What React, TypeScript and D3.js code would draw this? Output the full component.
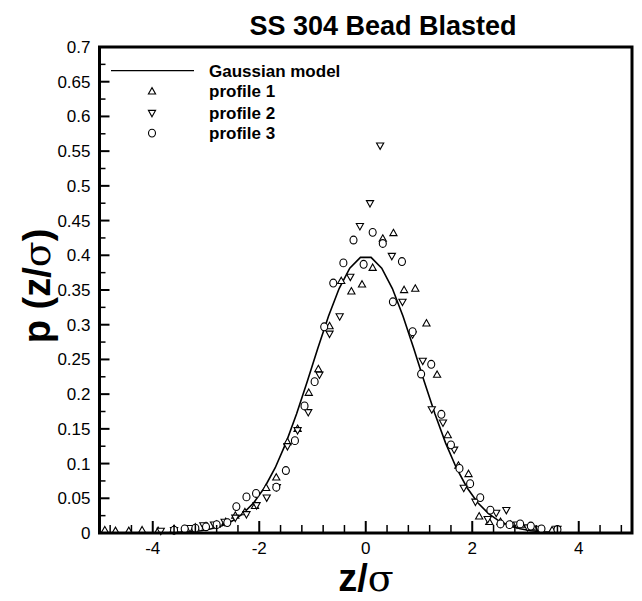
import React from 'react';
import * as d3 from 'd3';

// Gaussian model curve (sampled values)
const modelZ = [-4.9, -4.5, -4.1, -3.7, -3.5, -3.3, -3.1, -2.9, -2.7, -2.5, -2.3, -2.1, -1.9, -1.7, -1.5, -1.3, -1.1, -0.9, -0.7, -0.5, -0.3, -0.1, 0.1, 0.3, 0.5, 0.7, 0.9, 1.1, 1.3, 1.5, 1.7, 1.9, 2.1, 2.3, 2.5, 2.7, 2.9, 3.1, 3.3, 3.5, 3.7, 4.1, 4.5, 4.9];
const modelP = [0.0, 0.0, 0.0001, 0.0004, 0.0009, 0.0017, 0.0033, 0.006, 0.0104, 0.0175, 0.0283, 0.044, 0.0656, 0.094, 0.1295, 0.1714, 0.2179, 0.2661, 0.3123, 0.3521, 0.3814, 0.397, 0.397, 0.3814, 0.3521, 0.3123, 0.2661, 0.2179, 0.1714, 0.1295, 0.094, 0.0656, 0.044, 0.0283, 0.0175, 0.0104, 0.006, 0.0033, 0.0017, 0.0009, 0.0004, 0.0001, 0.0, 0.0];

// profile 1 (triangle up)
const p1Z = [-4.9, -4.7, -4.45, -4.2, -3.9, -3.6, -3.4, -3.2, -3.0, -2.8, -2.63, -2.45, -2.27, -2.08, -1.87, -1.68, -1.47, -1.28, -1.07, -0.89, -0.68, -0.46, -0.27, -0.07, 0.13, 0.32, 0.52, 0.72, 0.93, 1.14, 1.34, 1.54, 1.74, 1.93, 2.13, 2.32, 2.53, 2.72, 2.92, 3.1, 3.5];
const p1P = [0.004, 0.003, 0.003, 0.004, 0.003, 0.006, 0.005, 0.008, 0.010, 0.012, 0.016, 0.025, 0.030, 0.039, 0.065, 0.080, 0.131, 0.150, 0.202, 0.236, 0.298, 0.363, 0.348, 0.358, 0.382, 0.424, 0.432, 0.350, 0.352, 0.302, 0.228, 0.141, 0.097, 0.085, 0.024, 0.016, 0.016, 0.012, 0.012, 0.008, 0.004];

// profile 2 (triangle down)
const p2Z = [-3.85, -3.6, -3.3, -3.05, -2.85, -2.65, -2.45, -2.24, -2.05, -1.86, -1.67, -1.47, -1.28, -1.08, -0.87, -0.68, -0.49, -0.29, -0.11, 0.08, 0.27, 0.49, 0.69, 0.88, 1.07, 1.24, 1.45, 1.66, 1.84, 2.06, 2.29, 2.45, 2.64, 2.84, 3.04, 3.25, 3.6];
const p2P = [0.003, 0.004, 0.007, 0.011, 0.012, 0.016, 0.022, 0.027, 0.040, 0.051, 0.066, 0.125, 0.148, 0.174, 0.228, 0.287, 0.312, 0.369, 0.442, 0.475, 0.558, 0.399, 0.333, 0.286, 0.248, 0.178, 0.159, 0.120, 0.065, 0.045, 0.020, 0.029, 0.033, 0.012, 0.008, 0.006, 0.006];

// profile 3 (circle)
const p3Z = [-3.6, -3.4, -3.2, -3.0, -2.8, -2.6, -2.43, -2.24, -2.06, -1.68, -1.50, -1.33, -1.15, -0.96, -0.78, -0.61, -0.42, -0.23, -0.04, 0.13, 0.32, 0.51, 0.68, 0.88, 1.04, 1.23, 1.42, 1.60, 1.76, 1.96, 2.15, 2.34, 2.53, 2.7, 2.9, 3.1, 3.3, 3.6];
const p3P = [0.004, 0.006, 0.007, 0.009, 0.012, 0.015, 0.038, 0.052, 0.057, 0.066, 0.090, 0.133, 0.183, 0.218, 0.297, 0.360, 0.389, 0.422, 0.387, 0.433, 0.417, 0.333, 0.391, 0.290, 0.229, 0.243, 0.171, 0.127, 0.093, 0.071, 0.051, 0.033, 0.013, 0.012, 0.013, 0.010, 0.006, 0.005];

const yTickLabels = ['0', '0.05', '0.1', '0.15', '0.2', '0.25', '0.3', '0.35', '0.4', '0.45', '0.5', '0.55', '0.6', '0.65', '0.7'];
const yTickValues = [0, 0.05, 0.1, 0.15, 0.2, 0.25, 0.3, 0.35, 0.4, 0.45, 0.5, 0.55, 0.6, 0.65, 0.7];
const xTickValues = [-4, -2, 0, 2, 4];
const xTickLabels = ['-4', '-2', '0', '2', '4'];
const legendLabels = ['Gaussian model', 'profile 1', 'profile 2', 'profile 3'];

const FONT = 'Liberation Sans, Arial, sans-serif';
const SERIF = 'DejaVu Serif, Liberation Serif, serif';

export default function App() {
  const W = 642, H = 601;
  const L = 99.5, R = 632, T = 47, B = 533;
  const x = d3.scaleLinear().domain([-5, 5]).range([L, R]);
  const y = d3.scaleLinear().domain([0, 0.7]).range([B, T]);

  const line = d3.line<number>().x((d, i) => x(modelZ[i])).y(d => y(d));

  const xMinor = d3.range(-4.8, 5, 0.4).filter(v => Math.abs(v / 2 - Math.round(v / 2)) > 0.01);
  const yMinor = d3.range(0.025, 0.7, 0.05);

  const up = 'M0,-3.8L3.6,2.6L-3.6,2.6Z';
  const down = 'M0,3.8L3.6,-2.6L-3.6,-2.6Z';

  const mk = (type: string, cx: number, cy: number, key: string) => {
    if (type === 'up') return <path key={key} d={up} transform={`translate(${cx},${cy})`} fill="white" stroke="black" strokeWidth={1.1} />;
    if (type === 'down') return <path key={key} d={down} transform={`translate(${cx},${cy})`} fill="white" stroke="black" strokeWidth={1.1} />;
    return <ellipse key={key} cx={cx} cy={cy} rx={3.5} ry={3.9} fill="white" stroke="black" strokeWidth={1.1} />;
  };

  const legX = 152, legTextX = 209;
  const legVals = [0.666, 0.636, 0.605, 0.576];

  return (
    <svg width={W} height={H} style={{ position: 'absolute', left: 0, top: 0, background: 'white' }} fontFamily={FONT}>
      <rect x={0} y={0} width={W} height={H} fill="white" />
      <text x={383} y={35} textAnchor="middle" fontSize={27} fontWeight="bold">SS 304 Bead Blasted</text>

      {/* model curve */}
      <path d={line(modelP) || ''} fill="none" stroke="black" strokeWidth={1.6} />

      {/* markers */}
      {p1Z.map((z, i) => mk('up', x(z), y(p1P[i]), 'a' + i))}
      {p2Z.map((z, i) => mk('down', x(z), y(p2P[i]), 'b' + i))}
      {p3Z.map((z, i) => mk('circ', x(z), y(p3P[i]), 'c' + i))}

      {/* frame */}
      <rect x={L} y={T} width={R - L} height={B - T} fill="none" stroke="black" strokeWidth={3} />

      {/* y ticks */}
      {yTickValues.map((v, i) => (
        <g key={'yt' + i}>
          <line x1={L} x2={L + 10} y1={y(v)} y2={y(v)} stroke="black" strokeWidth={2} />
          <text x={L - 9} y={y(v) + 6} textAnchor="end" fontSize={17}>{yTickLabels[i]}</text>
        </g>
      ))}
      {yMinor.map((v, i) => (
        <line key={'ym' + i} x1={L} x2={L + 6} y1={y(v)} y2={y(v)} stroke="black" strokeWidth={1.5} />
      ))}

      {/* x ticks */}
      {xTickValues.map((v, i) => (
        <g key={'xt' + i}>
          <line x1={x(v)} x2={x(v)} y1={B} y2={B - 12} stroke="black" strokeWidth={2} />
          <text x={x(v)} y={B + 21} textAnchor="middle" fontSize={17}>{xTickLabels[i]}</text>
        </g>
      ))}
      {xMinor.map((v, i) => (
        <line key={'xm' + i} x1={x(v)} x2={x(v)} y1={B} y2={B - 8} stroke="black" strokeWidth={1.5} />
      ))}

      {/* axis titles */}
      <text x={366} y={591} textAnchor="middle" fontSize={38} fontWeight="bold">
        z/<tspan fontWeight="normal" fontFamily={SERIF}>σ</tspan>
      </text>
      <text transform={`translate(50,${(T + B) / 2 - 4}) rotate(-90)`} textAnchor="middle" fontSize={38} fontWeight="bold">
        p (z/<tspan fontWeight="normal" fontFamily={SERIF}>σ</tspan>)
      </text>

      {/* legend */}
      <line x1={111} x2={194} y1={y(legVals[0])} y2={y(legVals[0])} stroke="black" strokeWidth={1.3} />
      {mk('up', legX, y(legVals[1]), 'l1')}
      {mk('down', legX, y(legVals[2]), 'l2')}
      {mk('circ', legX, y(legVals[3]), 'l3')}
      {legendLabels.map((t, i) => (
        <text key={'lg' + i} x={legTextX} y={y(legVals[i]) + 6} fontSize={17} fontWeight="bold">{t}</text>
      ))}
    </svg>
  );
}
